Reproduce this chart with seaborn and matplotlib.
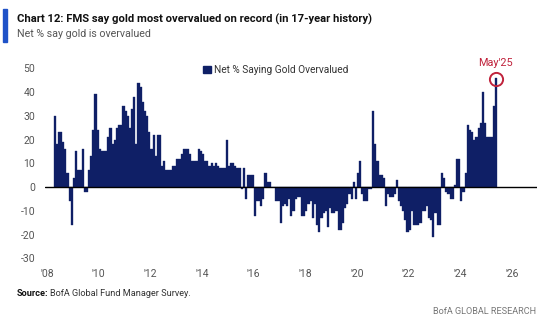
import matplotlib
matplotlib.use("Agg")
import matplotlib.pyplot as plt
from matplotlib.patches import Patch, Rectangle
import pandas as pd
import seaborn as sns

# ---- data ----
start_period = "2008-04"
net_pct = [
    30, 18, 23, 23, 19, 16, 6, -6, -16, 4,
    15, 7, 7, 16, -2, -2, 7, 13, 24, 39,
    24, 16, 15, 15, 15, 21, 25, 18, 20, 25,
    26, 26, 34, 32, 30, 25, 33, 38, 18, 44,
    42, 36, 32, 30, 23, 16, 22, 13, 22, 22,
    9, 11, 7, 7, 7, 9, 9, 12, 12, 14,
    16, 16, 16, 14, 11, 11, 11, 16, 15, 14,
    11, 11, 9, 10, 9, 10, 9, 8, 8, 8,
    20, 9, 10, 10, 9, 8, 8, -1, 8, -5,
    5, 5, 5, -12, -6, -6, -8, -5, 6, 2,
    2, 0, 0, -6, -6, -15, -8, -7, -8, -5,
    -12, -10, -5, -4, -4, -12, -12, -10, -7, -6,
    -13, -7, -16, -19, -13, -11, -10, -17, -9, -11,
    -11, -10, -18, -18, -15, -9, -7, -3, -5, 2,
    -5, 6, 11, -3, -6, -6, -1, -1,
    32, 18, 11, 5, 5, 4, -8, -3, -4, -4,
    -3, 3, -6, -8, -10, -14, -19, -18, -10, -16,
    -16, -16, -15, -10, -10, -8, -13, -14, -21, -11,
    -16, -16, 6, 4, -2, -3, -5, -5, 1, 12,
    12, -6, -2, 6, 26, 24, 23, 20, 21, 25,
    27, 40, 27, 21, 21, 21, 34, 46,
]
tick_years = [2008, 2010, 2012, 2014, 2016, 2018, 2020, 2022, 2024, 2026]
tick_labels = ["'08", "'10", "'12", "'14", "'16", "'18", "'20", "'22", "'24", "'26"]
y_ticks = [-30, -20, -10, 0, 10, 20, 30, 40, 50]
series_label = "Net % Saying Gold Overvalued"
highlight_label = "May'25"

NAVY = "#0f1f66"
RED = "#c0233c"
ACCENT = "#1f52c8"

sns.set_theme(style="white")
plt.rcParams['font.family'] = ['Roboto', 'DejaVu Sans']

W, H = 540, 323
fig = plt.figure(figsize=(W / 100, H / 100), dpi=100)
ax = fig.add_axes([45 / W, (H - 258.3) / H, 492 / W, (258.3 - 68.3) / H])

months = pd.period_range(start_period, periods=len(net_pct), freq="M")
xpos = months.year + (months.month - 0.5) / 12
df = pd.DataFrame({"x": xpos, "value": net_pct})

sns.barplot(data=df, x="x", y="value", native_scale=True, width=1.0,
            color=NAVY, saturation=1, errorbar=None,
            edgecolor=NAVY, linewidth=0.25, ax=ax)

ax.axhline(0, color="black", lw=1.0, zorder=5)
ax.set_xlim(2007.92, 2026.97)
ax.set_ylim(-30, 50)
ax.set_xticks(tick_years)
ax.set_xticklabels(tick_labels)
ax.set_yticks(y_ticks)
ax.set_yticklabels([str(v) for v in y_ticks])
ax.set_xlabel("")
ax.set_ylabel("")
ax.tick_params(axis="both", length=0, labelsize=7.5, colors="#555555")
ax.tick_params(axis="y", pad=7)
ax.tick_params(axis="x", pad=7.5)
for s in ax.spines.values():
    s.set_visible(False)
ax.grid(False)

# highlight last point
ax.plot(xpos[-1], net_pct[-1] - 0.6, marker="o", ms=9.5, mfc="none",
        mec=RED, mew=1.4, clip_on=False, zorder=6)
ax.text(xpos[-1], 52.3, highlight_label, color=RED, fontsize=7.8,
        ha="center", va="center", clip_on=False)

# legend
handles = [Patch(facecolor=NAVY, edgecolor=NAVY, label=series_label)]
fig.legend(handles=handles, loc="center", bbox_to_anchor=(276 / W, 1 - 70 / H),
           frameon=False, fontsize=7.3, handlelength=0.75, handleheight=0.75,
           handletextpad=0.3, labelcolor="#333333", borderaxespad=0)

# titles
fig.patches.append(Rectangle((3 / W, 1 - 42 / H), 4.5 / W, 33.5 / H,
                             transform=fig.transFigure, color=ACCENT))
fig.text(17 / W, 1 - 19 / H,
         "Chart 12: FMS say gold most overvalued on record (in 17-year history)",
         fontsize=8.1, fontweight="bold", color="#111111", va="center")
fig.text(17 / W, 1 - 34 / H, "Net % say gold is overvalued",
         fontsize=7.7, color="#555555", va="center")

# footer
src = fig.text(17 / W, 1 - 294 / H, "Source:", fontsize=6.6,
               fontweight="bold", color="#111111", va="center")
fig.canvas.draw()
bb = src.get_window_extent(renderer=fig.canvas.get_renderer())
fig.text(bb.x1 / W + 1.5 / W, 1 - 294 / H, "BofA Global Fund Manager Survey.",
         fontsize=6.6, color="#333333", va="center")
fig.text(536 / W, 1 - 312 / H, "BofA GLOBAL RESEARCH", fontsize=6.6,
         color="#777777", ha="right", va="center")

fig.savefig("out.png", dpi=100)
